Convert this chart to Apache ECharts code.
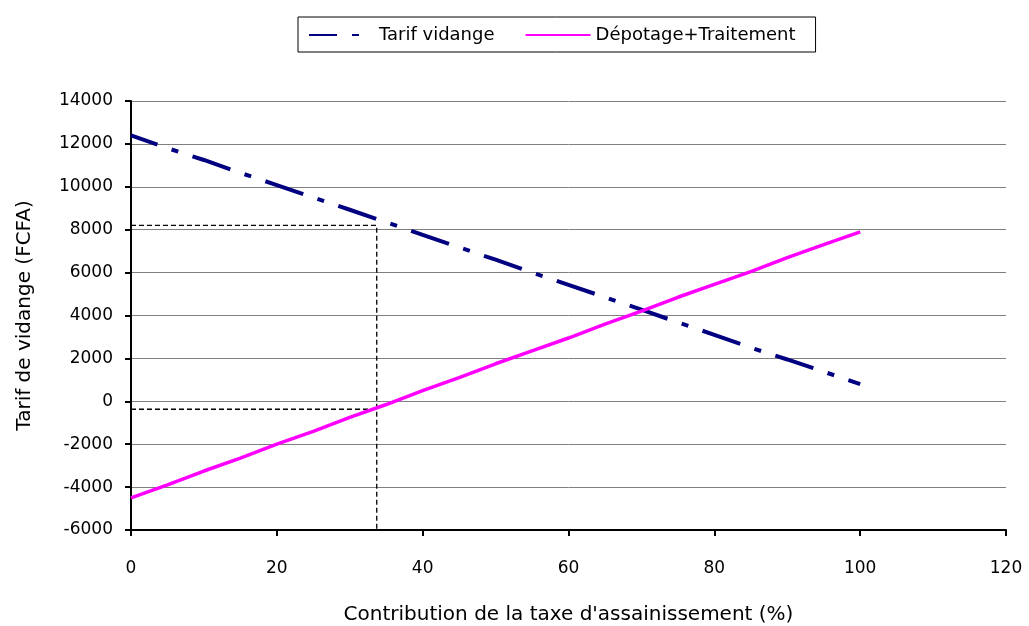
<!DOCTYPE html>
<html>
<head>
<meta charset="utf-8">
<script src="https://cdn.jsdelivr.net/npm/echarts@6/dist/echarts.min.js"></script>
<style>html,body{margin:0;padding:0;background:#fff}#c{width:1029px;height:626px}</style>
</head>
<body>
<div id="c"></div>
<script>
var xValues = [0,5,10,15,20,25,30,35,40,45,50,55,60,65,70,75,80,85,90,95,100];
var tarifVidange = [12400,11800,11250,10650,10080,9500,8930,8350,7760,7180,6600,6000,5430,4850,4270,3680,3100,2500,1950,1380,800];
var depotageTraitement = [-4500,-3900,-3250,-2650,-2000,-1400,-750,-150,500,1100,1750,2350,2950,3600,4200,4850,5450,6050,6700,7300,7900];
var refX = 33.7;
var refTarif = 8200;
var refDepotage = -370;
var yMin = -6000, yMax = 14000, yStep = 2000;
var xMin = 0, xMax = 120, xStep = 20;

function pairs(xs, ys){ return xs.map(function(x,i){ return [x, ys[i]]; }); }

var font = 'DejaVu Sans';
var chart = echarts.init(document.getElementById('c'), null, {renderer:'canvas'});
chart.setOption({
  animation: false,
  backgroundColor: '#fff',
  textStyle: {fontFamily: font},
  grid: {left: 131, right: 23, top: 101, bottom: 96, containLabel: false, outerBoundsMode: 'none'},
  legend: {
    data: ['Tarif vidange', 'Dépotage+Traitement'],
    left: 298, top: 17,
    padding: [9, 20, 8, 10],
    borderColor: '#000', borderWidth: 1,
    itemWidth: 65, itemHeight: 14, itemGap: 30,
    itemStyle: {opacity: 0},
    textStyle: {fontFamily: font, fontSize: 18, color: '#000'}
  },
  xAxis: {
    type: 'value', min: xMin, max: xMax, interval: xStep,
    name: "Contribution de la taxe d'assainissement (%)",
    nameLocation: 'middle', nameGap: 75,
    nameTextStyle: {fontFamily: font, fontSize: 20, color: '#000'},
    axisLine: {onZero: false, lineStyle: {color: '#000', width: 2}},
    axisTick: {show: true, length: 6, lineStyle: {color: '#000', width: 2}},
    axisLabel: {margin: 30, fontFamily: font, fontSize: 17, color: '#000'},
    splitLine: {show: false}
  },
  yAxis: {
    type: 'value', min: yMin, max: yMax, interval: yStep,
    name: 'Tarif de vidange (FCFA)',
    nameLocation: 'middle', nameGap: 96,
    nameTextStyle: {fontFamily: font, fontSize: 20, color: '#000'},
    axisLine: {show: true, onZero: false, lineStyle: {color: '#000', width: 2}},
    axisTick: {show: true, length: 6, lineStyle: {color: '#000', width: 2}},
    axisLabel: {margin: 18, fontFamily: font, fontSize: 17, color: '#000',
      formatter: function(v){ return String(v); }},
    splitLine: {show: true, lineStyle: {color: '#808080', width: 1}}
  },
  series: [
    {
      name: 'Tarif vidange', type: 'line', data: pairs(xValues, tarifVidange),
      symbol: 'none', z: 3,
      lineStyle: {color: '#000080', width: 4, type: [40, 15, 7, 15], dashOffset: 12},
      itemStyle: {color: '#000080'}
    },
    {
      name: 'Dépotage+Traitement', type: 'line', data: pairs(xValues, depotageTraitement),
      symbol: 'none', z: 3,
      lineStyle: {color: '#FF00FF', width: 3.5},
      itemStyle: {color: '#FF00FF'}
    },
    {
      name: 'ref1', type: 'line', data: [[xMin, refTarif], [refX, refTarif], [refX, yMin]],
      symbol: 'none', z: 2, silent: true,
      lineStyle: {color: '#000', width: 1.3, type: [5, 3]}
    },
    {
      name: 'ref2', type: 'line', data: [[xMin, refDepotage], [refX, refDepotage]],
      symbol: 'none', z: 2, silent: true,
      lineStyle: {color: '#000', width: 1.3, type: [5, 3]}
    }
  ]
});
</script>
</body>
</html>
